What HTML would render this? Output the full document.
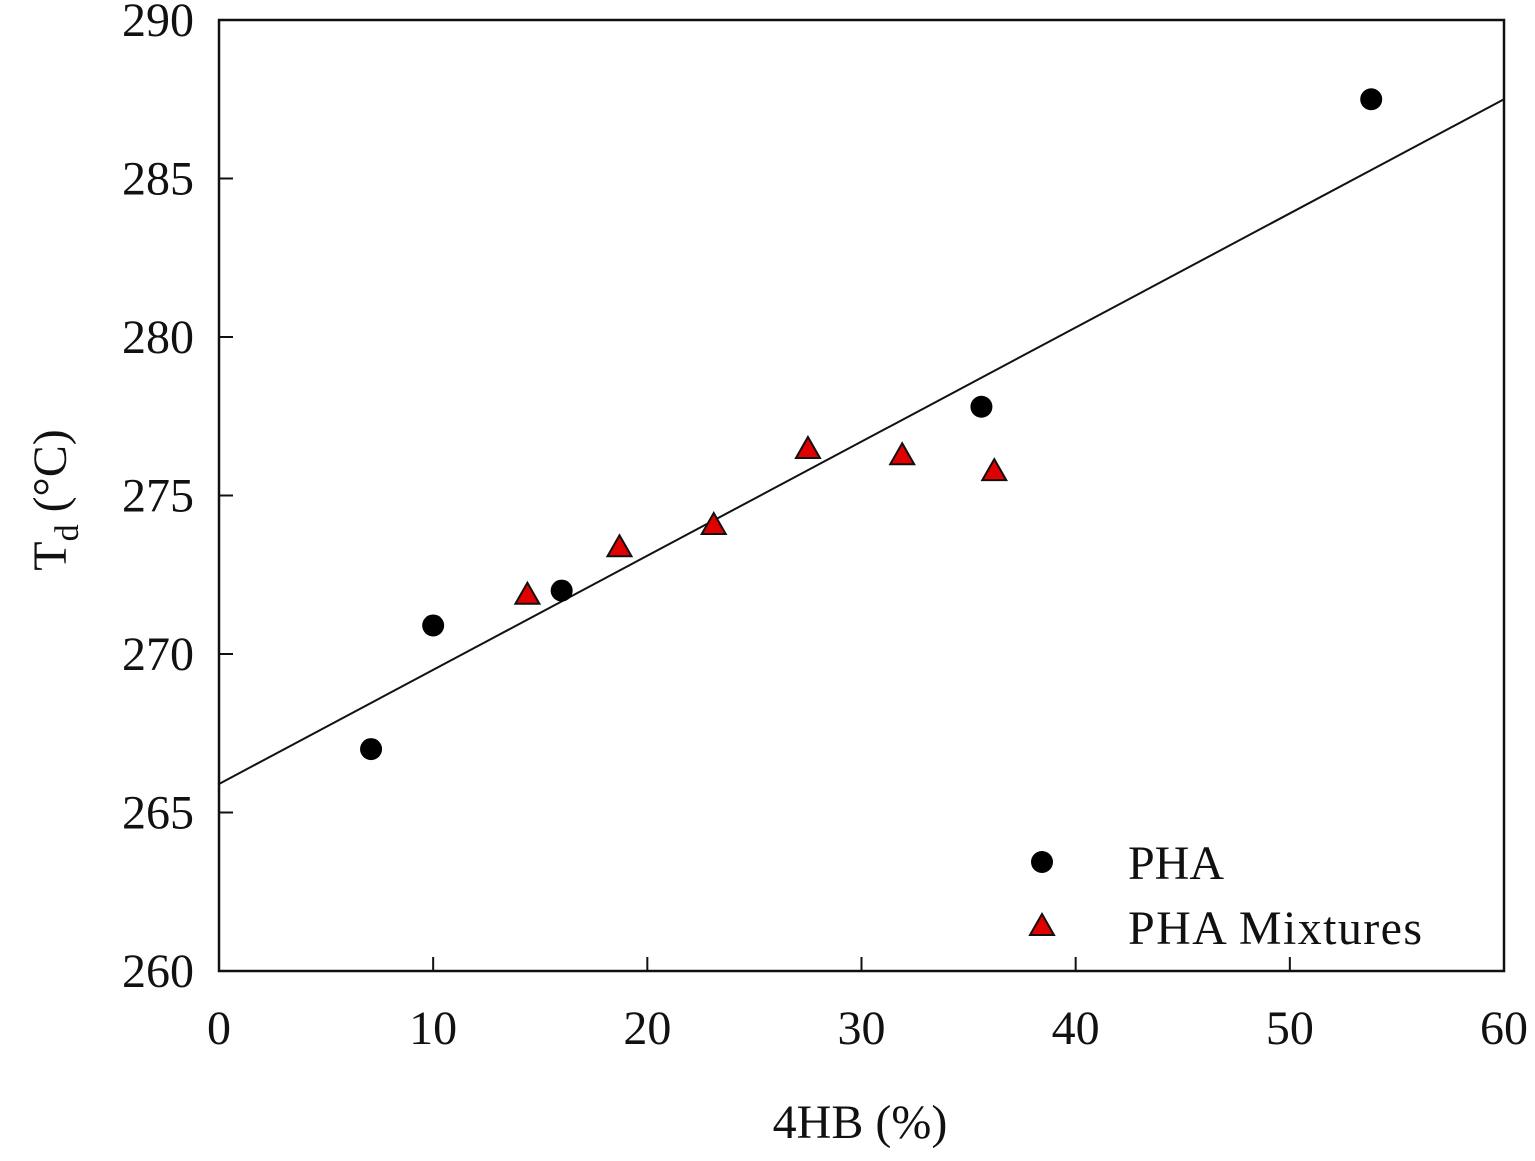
<!DOCTYPE html>
<html><head><meta charset="utf-8"><style>
html,body{margin:0;padding:0;background:#fff;}
svg text{font-family:"Liberation Serif",serif;fill:#111;}
</style></head><body>
<svg id="chart" width="1535" height="1156" xmlns="http://www.w3.org/2000/svg">
<rect x="219" y="20" width="1285" height="951" fill="none" stroke="#111" stroke-width="2.5"/>
<g id="ticks"></g>
<g id="marks"></g>
<text x="860" y="1138" font-size="48" text-anchor="middle">4HB (%)</text>
<text transform="translate(66,500) rotate(-90)" font-size="48" text-anchor="middle">T<tspan font-size="34" dy="12">d</tspan><tspan dy="-12"> (°C)</tspan></text>
<g>
<circle cx="1042" cy="862" r="11" fill="#000"/>
<text x="1128" y="879" font-size="48" textLength="96">PHA</text>
<polygon points="1042,914 1054,935 1030,935" fill="#e00000" stroke="#111" stroke-width="2"/>
<text x="1128" y="944" font-size="48" textLength="294">PHA Mixtures</text>
</g>
</svg>
<script>
const xTicks=[0,10,20,30,40,50,60];
const yTicks=[260,265,270,275,280,285,290];
const phaX=[7.1,10,16,35.6,53.8];
const phaY=[267,270.9,272,277.8,287.5];
const mixX=[14.4,18.7,23.1,27.5,31.9,36.2];
const mixY=[271.9,273.4,274.1,276.5,276.3,275.8];
const fitX=[0,60];
const fitY=[265.9,287.5];
const NS='http://www.w3.org/2000/svg';
const sx=v=>219+(v-0)/60*1285;
const sy=v=>971-(v-260)/30*951;
function mk(tag,attrs,parent){const e=document.createElementNS(NS,tag);for(const k in attrs)e.setAttribute(k,attrs[k]);parent.appendChild(e);return e;}
const tg=document.getElementById('ticks'), mg=document.getElementById('marks');
xTicks.forEach(t=>{
  const l=mk('line',{x1:sx(t),x2:sx(t),y1:971,y2:957,stroke:'#111','stroke-width':2},tg);
  
  
  const tx=mk('text',{x:sx(t),y:1044,'font-size':48,'text-anchor':'middle'},tg);tx.textContent=t;
  
  
});
yTicks.forEach(t=>{
  const l=mk('line',{x1:219,x2:233,y1:sy(t),y2:sy(t),stroke:'#111','stroke-width':2},tg);
  
  
  const tx=mk('text',{x:194,y:sy(t)+16,'font-size':48,'text-anchor':'end'},tg);tx.textContent=t;
  
  
});
const fl=mk('line',{x1:sx(fitX[0]),y1:sy(fitY[0]),x2:sx(fitX[1]),y2:sy(fitY[1]),stroke:'#111','stroke-width':2},mg);


phaX.forEach((x,i)=>{
  const c=mk('circle',{cx:sx(x),cy:sy(phaY[i]),r:11,fill:'#000'},mg);
  
  
});
mixX.forEach((x,i)=>{
  const cx=sx(x),cy=sy(mixY[i]);
  const p=mk('polygon',{points:`${cx},${cy-11} ${cx+12},${cy+10} ${cx-12},${cy+10}`,fill:'#e00000',stroke:'#111','stroke-width':2},mg);
  
  
});
</script>
</body></html>
